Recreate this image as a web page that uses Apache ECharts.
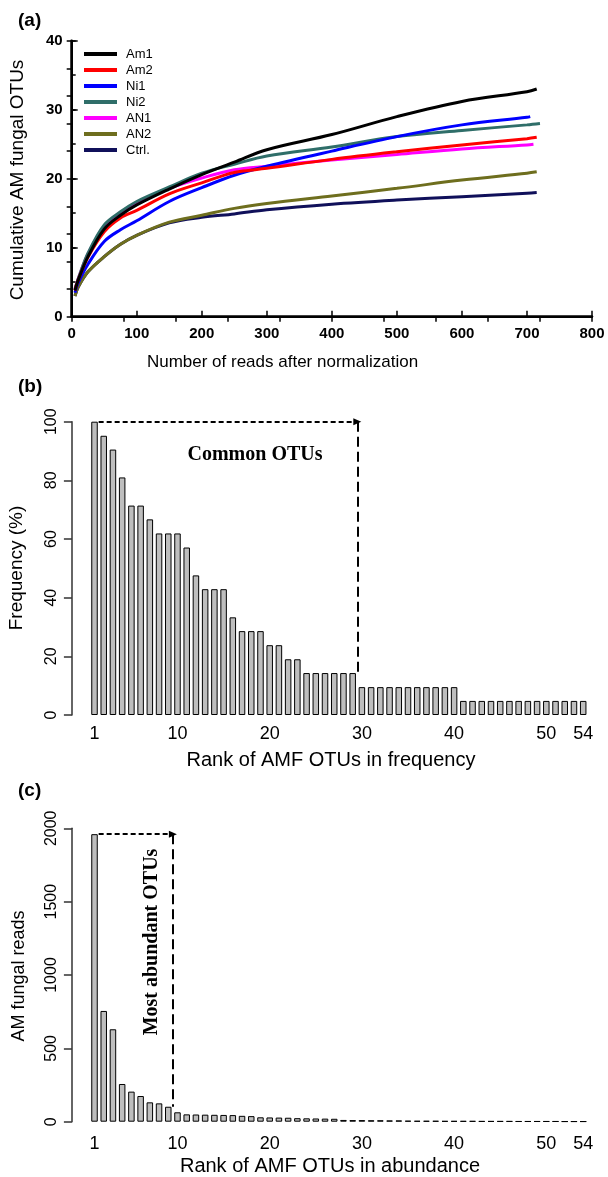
<!DOCTYPE html>
<html>
<head>
<meta charset="utf-8">
<script src="https://cdn.jsdelivr.net/npm/echarts@6/dist/echarts.min.js"></script>
<style>
  html, body { margin: 0; padding: 0; background: #fff; }
  #chart { width: 608px; height: 1177px; }
</style>
</head>
<body>
<div id="chart"></div>
<script>
// (a) rarefaction curves: cumulative OTUs at given read counts
const readsAt = [5, 10, 25, 50, 75, 100, 150, 200, 250, 300, 400, 500, 600, 700];
const curveNames = ['Am1', 'Am2', 'Ni1', 'Ni2', 'AN1', 'AN2', 'Ctrl.'];
const curveColors = ['#000000', '#ff0000', '#0000ff', '#2f6e69', '#ff00ff', '#6e6e1e', '#10105a'];
const lastRead = [715, 715, 705, 720, 710, 715, 715];
const otuAm1 = [3.8, 5.3, 8.7, 12.7, 14.7, 16.2, 18.5, 20.6, 22.4, 24.2, 26.4, 29.0, 31.2, 32.6, 33.0];
const otuAm2 = [3.8, 5.3, 8.6, 12.3, 14.3, 15.4, 17.8, 19.4, 20.9, 21.5, 22.8, 23.9, 24.9, 25.8, 26.0];
const otuNi1 = [3.5, 4.9, 7.6, 10.9, 12.6, 13.9, 16.7, 18.7, 20.5, 21.8, 24.0, 26.1, 27.8, 28.9, 29.0];
const otuNi2 = [4.0, 5.5, 9.2, 13.3, 15.2, 16.7, 18.8, 20.8, 22.1, 23.3, 24.6, 26.1, 27.0, 27.8, 28.0];
const otuAN1 = [4.0, 5.5, 9.1, 13.1, 15.1, 16.5, 18.6, 20.1, 21.3, 21.8, 22.7, 23.5, 24.3, 24.9, 25.0];
const otuAN2 = [3.0, 4.3, 6.5, 8.7, 10.5, 11.8, 13.7, 14.7, 15.7, 16.4, 17.5, 18.6, 19.8, 20.8, 21.0];
const otuCtrl = [3.0, 4.3, 6.5, 8.7, 10.5, 11.8, 13.6, 14.4, 14.9, 15.5, 16.3, 16.9, 17.4, 17.9, 18.0];
const curveValues = [otuAm1, otuAm2, otuNi1, otuNi2, otuAN1, otuAN2, otuCtrl];

// (b) frequency (%) of each OTU, ranked
const freqPct = [100, 95.2, 90.5, 81.0, 71.4, 71.4, 66.7, 61.9, 61.9, 61.9,
  57.1, 47.6, 42.9, 42.9, 42.9, 33.3, 28.6, 28.6, 28.6, 23.8,
  23.8, 19.0, 19.0, 14.3, 14.3, 14.3, 14.3, 14.3, 14.3, 9.5,
  9.5, 9.5, 9.5, 9.5, 9.5, 9.5, 9.5, 9.5, 9.5, 9.5,
  4.8, 4.8, 4.8, 4.8, 4.8, 4.8, 4.8, 4.8, 4.8, 4.8,
  4.8, 4.8, 4.8, 4.8];

// (c) reads of each OTU, ranked
const abundReads = [1960, 755, 630, 257, 205, 175, 132, 125, 102, 64,
  50, 49, 48, 47, 46, 45, 40, 38, 30, 29,
  28, 27, 24, 23, 22, 21, 20, 12, 11, 11,
  10, 10, 9, 9, 7, 6, 6, 6, 5, 5,
  5, 5, 4, 4, 4, 4, 3, 3, 3, 3,
  3, 2, 2, 2];

const rankLabels = freqPct.map((v, i) => String(i + 1));
const rankTicks = [1, 10, 20, 30, 40, 50, 54];

const sans = 'Liberation Sans, Arial, sans-serif';
const serif = 'Liberation Serif, Times New Roman, serif';

const chart = echarts.init(document.getElementById('chart'), null, { renderer: 'canvas' });

const curveSeries = curveNames.map((name, k) => ({
  name: name,
  type: 'line',
  xAxisIndex: 0,
  yAxisIndex: 0,
  smooth: 0.35,
  symbol: 'none',
  lineStyle: { color: curveColors[k], width: 3 },
  itemStyle: { color: curveColors[k] },
  data: readsAt.map((x, i) => [x, curveValues[k][i]]).concat([[lastRead[k], curveValues[k][readsAt.length]]]),
  z: 10 - k
}));

function rankAxis(gridIndex, margin) {
  return {
    type: 'category', gridIndex: gridIndex, data: rankLabels,
    axisLine: { show: false }, axisTick: { show: false },
    axisLabel: {
      interval: (i) => rankTicks.indexOf(i + 1) >= 0,
      color: '#000', fontFamily: sans, fontSize: 18, margin: margin
    }
  };
}

function hiddenRankAxis(gridIndex) {
  return { type: 'value', gridIndex: gridIndex, min: 0.5, max: 54.5, show: false };
}

function countAxis(gridIndex, max, interval) {
  return {
    type: 'value', gridIndex: gridIndex, min: 0, max: max, interval: interval, offset: 18,
    axisLine: { show: true, lineStyle: { color: '#333', width: 1.5 } },
    axisTick: { show: true, length: 8, lineStyle: { color: '#333', width: 1.5 } },
    axisLabel: { rotate: 90, color: '#000', fontFamily: sans, fontSize: 16, margin: 12, formatter: (v) => String(v) },
    splitLine: { show: false }
  };
}

function barSeries(xi, yi, data) {
  return {
    type: 'bar', xAxisIndex: xi, yAxisIndex: yi, data: data, barWidth: 6.5,
    itemStyle: { color: '#bebebe', borderColor: '#000', borderWidth: 1 },
    silent: true
  };
}

function arrowGuide(xi, yi, x0, x1, top, bottom) {
  return [{
    type: 'line', xAxisIndex: xi, yAxisIndex: yi, data: [], silent: true,
    markLine: {
      silent: true, animation: false, symbol: ['none', 'triangle'], symbolSize: [7, 8],
      label: { show: false },
      lineStyle: { color: '#000', width: 2, type: [5, 3] },
      data: [[{ coord: [x0, top] }, { coord: [x1, top] }]]
    }
  }, {
    type: 'line', xAxisIndex: xi, yAxisIndex: yi, data: [], silent: true,
    markLine: {
      silent: true, animation: false, symbol: ['none', 'none'],
      label: { show: false },
      lineStyle: { color: '#000', width: 2, type: [10, 5] },
      data: [[{ coord: [x1, top] }, { coord: [x1, bottom] }]]
    }
  }];
}

const option = {
  animation: false,
  backgroundColor: '#fff',
  grid: [
    { left: 71.7, top: 40.7, width: 520.3, height: 276 },
    { left: 89.9, top: 421.7, width: 497.9, height: 293.3 },
    { left: 89.9, top: 828.3, width: 497.9, height: 293.4 }
  ],
  legend: {
    data: curveNames,
    orient: 'vertical',
    left: 84, top: 46, padding: 0,
    icon: 'rect', itemWidth: 33, itemHeight: 4, itemGap: 0,
    textStyle: { fontFamily: sans, fontSize: 13, color: '#000', lineHeight: 16, padding: [0, 0, 0, 4] }
  },
  xAxis: [
    {
      type: 'value', gridIndex: 0, min: 0, max: 800, interval: 100,
      axisLine: { lineStyle: { color: '#000', width: 2.5 } },
      axisTick: { inside: true, length: 6, lineStyle: { color: '#000', width: 1.5 } },
      axisLabel: { color: '#000', fontFamily: sans, fontWeight: 'bold', fontSize: 15, margin: 10 },
      splitLine: { show: false }
    },
    {
      type: 'value', gridIndex: 0, min: 0, max: 800, interval: 80, position: 'top',
      axisLine: { show: true, lineStyle: { color: '#000', width: 2 } },
      axisTick: { show: true, inside: true, length: 5, lineStyle: { color: '#000', width: 1.5 } },
      axisLabel: { show: false }, splitLine: { show: false }
    },
    rankAxis(1, 10),
    hiddenRankAxis(1),
    rankAxis(2, 13),
    hiddenRankAxis(2)
  ],
  yAxis: [
    {
      type: 'value', gridIndex: 0, min: 0, max: 40, interval: 10,
      axisLine: { show: true, lineStyle: { color: '#000', width: 2.5 } },
      axisTick: { show: true, inside: true, length: 6, lineStyle: { color: '#000', width: 1.5 } },
      axisLabel: { color: '#000', fontFamily: sans, fontWeight: 'bold', fontSize: 15, margin: 9 },
      splitLine: { show: false }
    },
    {
      type: 'value', gridIndex: 0, min: 0, max: 40, interval: 4, position: 'right',
      axisLine: { show: true, lineStyle: { color: '#000', width: 2 } },
      axisTick: { show: true, inside: true, length: 5, lineStyle: { color: '#000', width: 1.5 } },
      axisLabel: { show: false }, splitLine: { show: false }
    },
    countAxis(1, 100, 20),
    countAxis(2, 2000, 500),
    {
      // half-step inner ticks on the left axis of (a)
      type: 'value', gridIndex: 0, min: 0, max: 40, interval: 5, position: 'left',
      axisLine: { show: false },
      axisTick: { show: true, inside: true, length: 4, lineStyle: { color: '#000', width: 1.5 } },
      axisLabel: { show: false }, splitLine: { show: false }
    }
  ],
  series: curveSeries.concat(
    [barSeries(2, 2, freqPct)],
    arrowGuide(3, 2, 1.45, 29.5, 100, 14.3),
    [barSeries(4, 3, abundReads)],
    arrowGuide(5, 3, 1.45, 9.5, 1960, 102)
  ),
  graphic: [
    { type: 'text', left: 18, top: 11, style: { text: '(a)', font: 'bold 19px ' + sans, fill: '#000' } },
    { type: 'text', left: 18, top: 377, style: { text: '(b)', font: 'bold 19px ' + sans, fill: '#000' } },
    { type: 'text', left: 18, top: 781, style: { text: '(c)', font: 'bold 19px ' + sans, fill: '#000' } },
    { type: 'text', x: 282.5, y: 362, style: { text: 'Number of reads after normalization', font: '17px ' + sans, fill: '#000', align: 'center', verticalAlign: 'middle' } },
    { type: 'text', x: 18, y: 180, rotation: Math.PI / 2, style: { text: 'Cumulative AM fungal OTUs', font: '19px ' + sans, fill: '#000', align: 'center', verticalAlign: 'middle' } },
    { type: 'text', x: 331, y: 760, style: { text: 'Rank of AMF OTUs in frequency', font: '20px ' + sans, fill: '#000', align: 'center', verticalAlign: 'middle' } },
    { type: 'text', x: 17, y: 568, rotation: Math.PI / 2, style: { text: 'Frequency (%)', font: '19px ' + sans, fill: '#000', align: 'center', verticalAlign: 'middle' } },
    { type: 'text', x: 330, y: 1166, style: { text: 'Rank of AMF OTUs in abundance', font: '20px ' + sans, fill: '#000', align: 'center', verticalAlign: 'middle' } },
    { type: 'text', x: 19, y: 976, rotation: Math.PI / 2, style: { text: 'AM fungal reads', font: '18px ' + sans, fill: '#000', align: 'center', verticalAlign: 'middle' } },
    { type: 'text', x: 255, y: 455, style: { text: 'Common OTUs', font: 'bold 20px ' + serif, fill: '#000', align: 'center', verticalAlign: 'middle' } },
    { type: 'text', x: 152, y: 942, rotation: Math.PI / 2, style: { text: 'Most abundant OTUs', font: 'bold 20px ' + serif, fill: '#000', align: 'center', verticalAlign: 'middle' } }
  ]
};

chart.setOption(option);
</script>
</body>
</html>
